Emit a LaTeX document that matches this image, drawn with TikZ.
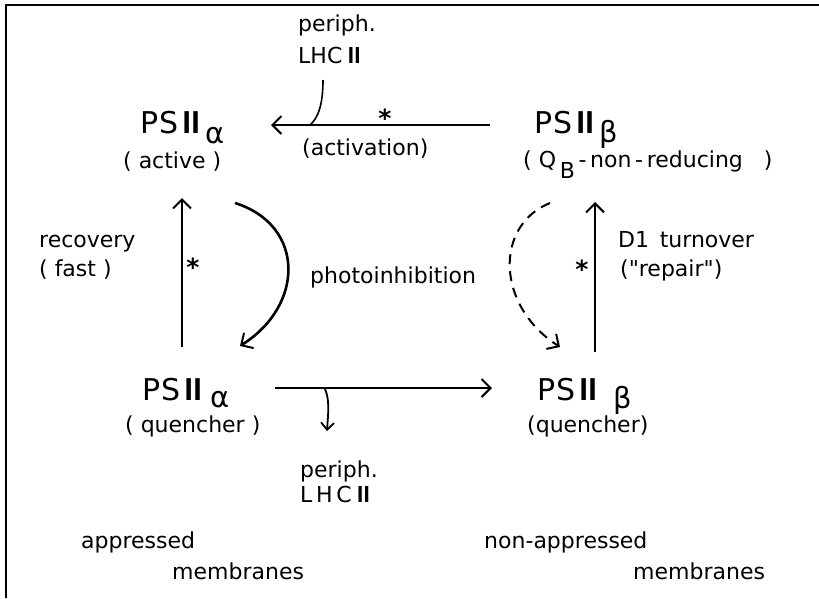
\documentclass[tikz,border=0pt]{standalone}
\usepackage{fontspec}
\setmainfont{DejaVu Sans}[Ligatures=TeXOff]
\usetikzlibrary{arrows.meta}

\tikzset{
  lbl/.style={font=\fontsize{22}{26}\selectfont, inner sep=0pt, anchor=base west},
  ps/.style={font=\fontsize{30}{32}\selectfont, inner sep=0pt, anchor=base west},
  asterisk/.style={font=\fontsize{25}{25}\selectfont\bfseries, inner sep=0pt, anchor=north},
  conn/.style={line width=2pt},
  arr/.style={conn, -{Straight Barb[length=9pt,width=18pt,line width=2pt]}},
  smallarr/.style={line width=1.8pt, -{Straight Barb[length=7pt,width=13pt,line width=1.8pt]}},
}

\newcommand{\greek}[1]{{\fontsize{29}{29}\selectfont #1}}
\newcommand{\romtwo}{\scalebox{1.5}[1]{Ⅱ}}
\newcommand{\psII}{P\kern1pt S\kern2pt\romtwo}

\begin{document}
\begin{tikzpicture}[x=1pt,y=-1pt]
\useasboundingbox (0,0) rectangle (819,598);

% frame
\draw[line width=2pt] (6,598) -- (6,5) -- (819,5);

% the four states
\node[ps] (aTop) at (140,133) {\psII\kern3pt\raisebox{-10pt}{\greek{α}}};
\node[lbl] (aTopLbl) at (123,168) {( active )};
\node[ps] (bTop) at (534,133) {\psII\kern3pt\raisebox{-9pt}{\greek{β}}};
\node[lbl] (bTopLbl) at (523,167) {( Q\,\raisebox{-11pt}{B}\,-\,non\,-\,reducing \ \ )};

\node[ps] (aBot) at (142,400) {\psII\kern6pt\raisebox{-7pt}{\greek{α}}};
\node[lbl] (aBotLbl) at (125,432) {( quencher )};
\node[ps] (bBot) at (537,400) {\psII\kern14pt\raisebox{-8pt}{\greek{β}}};
\node[lbl] (bBotLbl) at (527,432) {(quencher)};

% side labels
\node[lbl] (perTop) at (298,31) {periph.};
\node[lbl] (lhcTop) at (298,63) {LHC\,\romtwo};
\node[lbl] (act) at (302,155) {(activation)};
\node[lbl] (rec) at (39,247) {recovery};
\node[lbl] (fast) at (39,276) {( fast )};
\node[lbl] (photo) at (310,283) {photoinhibition};
\node[lbl] (d1) at (618,247) {D1\, turnover};
\node[lbl] (rep) at (620,276) {("repair")};
\node[lbl] (perBot) at (300,477) {periph.};
\node[lbl] (lhcBot) at (300,502) {L\,H\,C\,\romtwo};

\node[lbl] (appr) at (81,548) {appressed};
\node[lbl] (memA) at (172,579) {membranes};
\node[lbl] (nappr) at (484,548) {non-appressed};
\node[lbl] (memB) at (633,579) {membranes};

% asterisks on the catalysed steps
\node[asterisk] (s1) at (385,109) {*};
\node[asterisk] (s2) at (193,258) {*};
\node[asterisk] (s3) at (582,260) {*};

% connector end points
\coordinate (actR) at (490,125);
\coordinate (actL) at (271,125);
\coordinate (lhcIn) at (323,80);
\coordinate (lhcJoin) at (310,125);
\coordinate (recB) at (182,347);
\coordinate (recT) at (182,198);
\coordinate (repB) at (595,352);
\coordinate (repT) at (595,202);
\coordinate (phS) at (235,203);
\coordinate (phE) at (240,346);
\coordinate (daS) at (550,203);
\coordinate (daE) at (560,347);
\coordinate (qL) at (275,388);
\coordinate (qR) at (492,388);
\coordinate (lhcOut) at (325,389);
\coordinate (lhcEnd) at (327,431);

% activation (beta -> alpha)
\draw[arr] (actR) -- (actL);
\draw[conn, line width=1.6pt] (lhcIn) .. controls (323,105) and (318,118) .. (lhcJoin);

% recovery and repair
\draw[arr] (recB) -- (recT);
\draw[arr] (repB) -- (repT);

% photoinhibition
\draw[arr, line width=2.6pt] (phS) .. controls (305,225) and (305,305) .. (phE);
\draw[arr, dash pattern=on 10pt off 7pt] (daS) .. controls (495,225) and (495,305) .. (daE);

% alpha -> beta in the quenching state
\draw[arr] (qL) -- (qR);
\draw[smallarr] (lhcOut) .. controls (330,400) and (328,415) .. (lhcEnd);
\end{tikzpicture}
\end{document}
